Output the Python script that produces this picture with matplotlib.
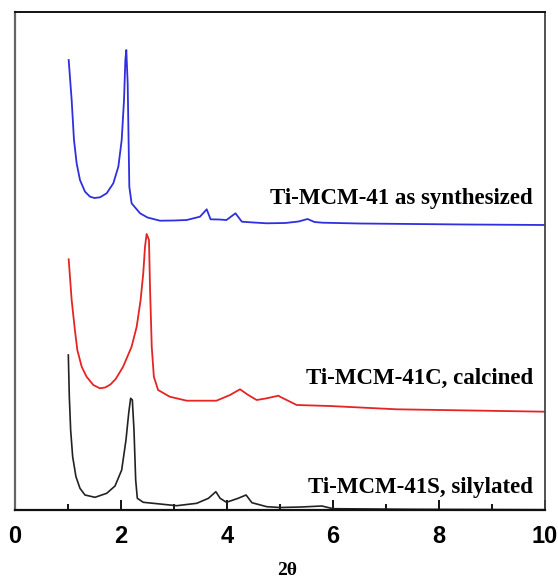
import matplotlib
matplotlib.use("Agg")
import matplotlib.pyplot as plt

# Data (x = 2theta, y = relative intensity in offset arbitrary units)
blue_x = [1.013, 1.069, 1.113, 1.163, 1.226, 1.321, 1.415, 1.50, 1.604, 1.73, 1.855, 1.95, 2.013,
          2.057, 2.082, 2.10, 2.126, 2.157, 2.20, 2.36, 2.50, 2.736, 3.00, 3.24, 3.49, 3.617, 3.69,
          3.85, 3.99, 4.16, 4.28, 4.50, 4.75, 5.10, 5.35, 5.52, 5.65, 5.80, 6.50, 7.50, 8.50, 10.0]
blue_y = [450, 410, 370, 346.7, 330, 318.3, 313.3, 312, 312.7, 316.7, 326.7, 343.3, 370,
          410, 450, 460, 426.7, 323.3, 306.7, 296.7, 292.5, 289.3, 289.5, 290, 293.3, 300.7, 290.7,
          290.5, 290, 296.7, 288.3, 287.5, 286.7, 287, 288.5, 291, 288, 287.3, 286.5, 286, 285.5, 285]

red_x = [1.013, 1.069, 1.13, 1.176, 1.258, 1.35, 1.478, 1.60, 1.70, 1.80, 1.90, 2.04, 2.20, 2.296,
         2.37, 2.42, 2.453, 2.484, 2.528, 2.547, 2.58, 2.62, 2.70, 2.92, 3.24, 3.80, 4.057,
         4.245, 4.40, 4.56, 4.75, 4.97, 5.00, 5.315, 5.94, 7.20, 10.0]
red_y = [250.7, 210, 180, 160, 143.3, 133.3, 125, 121.7, 122.5, 125.5, 131, 143.3, 163.3, 183.3,
         210, 236.7, 263.3, 276, 270, 223.3, 163.3, 133.3, 120, 113.3, 109.3, 109.3, 115,
         120.7, 115, 110, 111.7, 114.3, 113.3, 105, 104, 100.7, 98.3]

black_x = [1.006, 1.025, 1.05, 1.088, 1.15, 1.226, 1.32, 1.51, 1.73, 1.887, 2.013, 2.094, 2.145,
           2.182, 2.214, 2.245, 2.277, 2.308, 2.42, 2.736, 3.05, 3.43, 3.65, 3.79, 3.87, 3.99,
           4.21, 4.36, 4.47, 4.75, 5.00, 5.40, 5.79, 6.00, 7.50, 10.0]
black_y = [155, 113.3, 80, 53.3, 33.3, 21.7, 15, 12.7, 16.7, 24, 40, 70, 96.7,
           111.7, 110, 80, 30, 11.7, 7.7, 6, 4.3, 6.7, 11.7, 18.3, 11.7, 7.7,
           11.7, 15, 7.3, 3.3, 2.5, 3.0, 4, 1.3, 0.7, 0.3]

labels = ["Ti-MCM-41 as synthesized", "Ti-MCM-41C, calcined", "Ti-MCM-41S, silylated"]
label_y = [312, 132, 23]
xticks = [0, 2, 4, 6, 8, 10]
xminor = [1, 3, 5, 7, 9]

fig = plt.figure(figsize=(5.58, 5.84), dpi=100)
ax = fig.add_axes([15/558, 1-510/584, 530/558, 498/584])

ax.plot(blue_x, blue_y, color="#2f2fe0", lw=1.3)
ax.plot(red_x, red_y, color="#e52424", lw=1.3)
ax.plot(black_x, black_y, color="#222222", lw=1.2)

serif = ["Liberation Serif", "DejaVu Serif"]
for lab, yy in zip(labels, label_y):
    ax.text(9.77, yy, lab, ha="right", va="center", fontsize=16.5,
            fontweight="bold", family=serif)

ax.set_xlim(0, 10)
ax.set_ylim(0, 498)
ax.set_yticks([])
ax.set_xticks(xticks)
ax.set_xticks(xminor, minor=True)
ax.set_xticklabels([str(t) for t in xticks], fontsize=17, fontweight="bold",
                   family=["Liberation Sans", "DejaVu Sans"])
ax.tick_params(axis="x", which="major", direction="in", length=7, width=1.3, pad=10.5)
ax.tick_params(axis="x", which="minor", direction="in", length=4, width=1.3)

ax.set_xlabel("2θ", fontsize=14, fontweight="bold", family=serif)
ax.xaxis.set_label_coords(0.513, -0.105)

ax.spines["left"].set_color("#666666")
ax.spines["left"].set_linewidth(1.6)
ax.spines["top"].set_color("#111111")
ax.spines["top"].set_linewidth(1.4)
ax.spines["right"].set_color("#444444")
ax.spines["right"].set_linewidth(1.3)
ax.spines["bottom"].set_color("#111111")
ax.spines["bottom"].set_linewidth(1.6)

fig.savefig("out.png", dpi=100)
